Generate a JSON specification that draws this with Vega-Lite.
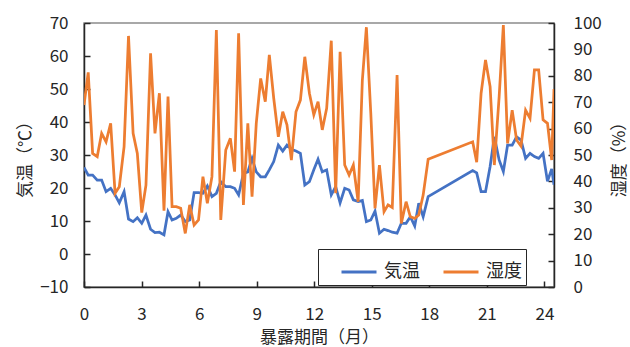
{
  "$schema": "https://vega.github.io/schema/vega-lite/v6.json",
  "width": 470,
  "height": 264,
  "autosize": {"type": "none"},
  "padding": {"left": 84, "top": 23, "right": 76, "bottom": 60},
  "background": "white",
  "config": {
    "font": "Noto Sans CJK JP",
    "view": {"stroke": "#8c8c8c", "strokeWidth": 1.5},
    "axis": {
      "grid": false,
      "domainColor": "#262626",
      "domainWidth": 1.5,
      "tickColor": "#262626",
      "tickWidth": 1.5,
      "labelFont": "Noto Sans CJK JP",
      "titleFont": "Noto Sans CJK JP",
      "labelFontSize": 17,
      "titleFontSize": 17,
      "labelColor": "#262626",
      "titleColor": "#262626",
      "titleFontWeight": "normal"
    },
    "legend": {
      "orient": "none",
      "legendX": 234,
      "legendY": 226,
      "direction": "horizontal",
      "title": null,
      "fillColor": "white",
      "strokeColor": "#262626",
      "padding": 4,
      "symbolType": "stroke",
      "symbolSize": 1225,
      "symbolStrokeWidth": 3,
      "symbolOffset": 18,
      "labelOffset": 6,
      "columnPadding": 4,
      "labelFont": "Noto Sans CJK JP",
      "labelFontSize": 18,
      "labelColor": "#262626"
    }
  },
  "data": {
    "values": [
      {"m": 0, "T": 26.2, "H": 68.9},
      {"m": 0.22, "T": 23.9, "H": 81.3},
      {"m": 0.45, "T": 23.9, "H": 50.6},
      {"m": 0.69, "T": 22.4, "H": 49.4},
      {"m": 0.92, "T": 22.4, "H": 58.2},
      {"m": 1.15, "T": 18.9, "H": 55.0},
      {"m": 1.39, "T": 19.9, "H": 62.0},
      {"m": 1.62, "T": 17.9, "H": 35.5},
      {"m": 1.84, "T": 15.5, "H": 38.0},
      {"m": 2.09, "T": 18.9, "H": 53.2},
      {"m": 2.32, "T": 10.6, "H": 95.1},
      {"m": 2.56, "T": 9.8, "H": 58.2},
      {"m": 2.78, "T": 11.0, "H": 50.6},
      {"m": 3.01, "T": 9.3, "H": 28.2},
      {"m": 3.23, "T": 11.8, "H": 38.6},
      {"m": 3.47, "T": 7.5, "H": 88.5},
      {"m": 3.70, "T": 6.5, "H": 58.2},
      {"m": 3.93, "T": 6.6, "H": 73.4},
      {"m": 4.17, "T": 5.8, "H": 28.9},
      {"m": 4.38, "T": 12.8, "H": 72.1},
      {"m": 4.59, "T": 10.3, "H": 30.4},
      {"m": 4.81, "T": 10.8, "H": 30.4},
      {"m": 5.04, "T": 11.8, "H": 29.8},
      {"m": 5.28, "T": 9.8, "H": 20.3},
      {"m": 5.51, "T": 10.3, "H": 31.1},
      {"m": 5.74, "T": 18.6, "H": 23.5},
      {"m": 5.97, "T": 18.6, "H": 25.4},
      {"m": 6.20, "T": 18.4, "H": 41.8},
      {"m": 6.43, "T": 20.6, "H": 31.7},
      {"m": 6.67, "T": 17.4, "H": 41.8},
      {"m": 6.90, "T": 18.4, "H": 97.3},
      {"m": 7.13, "T": 21.9, "H": 25.4},
      {"m": 7.39, "T": 20.4, "H": 51.9},
      {"m": 7.63, "T": 20.4, "H": 56.3},
      {"m": 7.85, "T": 19.9, "H": 43.7},
      {"m": 8.06, "T": 17.9, "H": 96.1},
      {"m": 8.31, "T": 24.4, "H": 31.1},
      {"m": 8.54, "T": 24.9, "H": 62.0},
      {"m": 8.76, "T": 29.0, "H": 34.2},
      {"m": 8.98, "T": 24.9, "H": 62.0},
      {"m": 9.21, "T": 23.4, "H": 79.0},
      {"m": 9.45, "T": 23.4, "H": 70.2},
      {"m": 9.66, "T": 25.5, "H": 87.9},
      {"m": 9.89, "T": 28.0, "H": 71.5},
      {"m": 10.13, "T": 33.0, "H": 56.9},
      {"m": 10.36, "T": 31.2, "H": 66.4},
      {"m": 10.58, "T": 33.0, "H": 61.4},
      {"m": 10.81, "T": 31.7, "H": 48.1},
      {"m": 11.05, "T": 31.2, "H": 66.4},
      {"m": 11.28, "T": 30.5, "H": 70.8},
      {"m": 11.51, "T": 20.9, "H": 87.2},
      {"m": 11.75, "T": 21.9, "H": 73.4},
      {"m": 11.98, "T": 25.5, "H": 65.2},
      {"m": 12.20, "T": 28.7, "H": 70.2},
      {"m": 12.42, "T": 24.9, "H": 59.5},
      {"m": 12.65, "T": 25.5, "H": 67.7},
      {"m": 12.89, "T": 17.9, "H": 93.3},
      {"m": 13.12, "T": 20.4, "H": 35.5},
      {"m": 13.35, "T": 15.5, "H": 89.1},
      {"m": 13.59, "T": 19.9, "H": 46.2},
      {"m": 13.82, "T": 19.4, "H": 42.4},
      {"m": 14.04, "T": 16.4, "H": 46.2},
      {"m": 14.29, "T": 15.9, "H": 32.3},
      {"m": 14.51, "T": 16.2, "H": 78.4},
      {"m": 14.72, "T": 9.8, "H": 98.4},
      {"m": 14.95, "T": 10.3, "H": 65.8},
      {"m": 15.17, "T": 13.0, "H": 29.8},
      {"m": 15.40, "T": 6.3, "H": 46.2},
      {"m": 15.64, "T": 7.5, "H": 28.5},
      {"m": 15.85, "T": 7.1, "H": 31.1},
      {"m": 16.07, "T": 6.6, "H": 30.1},
      {"m": 16.32, "T": 6.3, "H": 80.3},
      {"m": 16.54, "T": 9.3, "H": 24.1},
      {"m": 16.79, "T": 9.3, "H": 32.3},
      {"m": 17.01, "T": 11.3, "H": 26.6},
      {"m": 17.24, "T": 8.5, "H": 26.0},
      {"m": 17.45, "T": 15.4, "H": 27.3},
      {"m": 17.68, "T": 11.3, "H": 34.8},
      {"m": 17.94, "T": 17.4, "H": 48.4},
      {"m": 20.26, "T": 25.3, "H": 55.0},
      {"m": 20.47, "T": 24.6, "H": 47.3},
      {"m": 20.70, "T": 18.9, "H": 73.4},
      {"m": 20.93, "T": 18.9, "H": 86.0},
      {"m": 21.17, "T": 26.5, "H": 75.9},
      {"m": 21.39, "T": 35.5, "H": 46.2},
      {"m": 21.64, "T": 28.5, "H": 72.0},
      {"m": 21.86, "T": 25.0, "H": 99.2},
      {"m": 22.08, "T": 33.0, "H": 54.4},
      {"m": 22.32, "T": 33.0, "H": 67.0},
      {"m": 22.55, "T": 35.5, "H": 55.7},
      {"m": 22.78, "T": 34.5, "H": 53.4},
      {"m": 23.02, "T": 29.0, "H": 67.0},
      {"m": 23.25, "T": 30.5, "H": 63.9},
      {"m": 23.48, "T": 29.5, "H": 82.2},
      {"m": 23.70, "T": 29.0, "H": 82.2},
      {"m": 23.93, "T": 30.5, "H": 63.3},
      {"m": 24.16, "T": 22.0, "H": 62.0},
      {"m": 24.38, "T": 25.8, "H": 48.1},
      {"m": 24.50, "T": 21.0, "H": 75.0}
    ]
  },
  "encoding": {
    "x": {
      "field": "m",
      "type": "quantitative",
      "scale": {"domain": [0, 24.5], "nice": false, "zero": false},
      "axis": {
        "title": "暴露期間（月）",
        "values": [0, 3, 6, 9, 12, 15, 18, 21, 24],
        "tickSize": -6,
        "labelPadding": 25,
        "titlePadding": 7,
        "labelFlush": false
      }
    }
  },
  "layer": [
    {
      "mark": {"type": "line", "strokeWidth": 2.75, "clip": true},
      "encoding": {
        "y": {
          "field": "T",
          "type": "quantitative",
          "scale": {"domain": [-10, 70], "nice": false, "zero": false},
          "axis": {
            "orient": "left",
            "title": "気温（℃）",
            "values": [-10, 0, 10, 20, 30, 40, 50, 60, 70],
            "tickSize": -6,
            "labelPadding": 22,
            "titlePadding": 5
          }
        },
        "color": {
          "datum": "気温",
          "type": "nominal",
          "scale": {"domain": ["気温", "湿度"], "range": ["#4472C4", "#ED7D31"]}
        }
      }
    },
    {
      "mark": {"type": "line", "strokeWidth": 2.75, "clip": true},
      "encoding": {
        "y": {
          "field": "H",
          "type": "quantitative",
          "scale": {"domain": [0, 100], "nice": false, "zero": false},
          "axis": {
            "orient": "right",
            "title": "湿度（%）",
            "titleAngle": -90,
            "values": [0, 10, 20, 30, 40, 50, 60, 70, 80, 90, 100],
            "tickSize": -6,
            "labelPadding": 25,
            "titlePadding": 27
          }
        },
        "color": {"datum": "湿度", "type": "nominal"}
      }
    }
  ],
  "resolve": {"scale": {"y": "independent"}}
}
